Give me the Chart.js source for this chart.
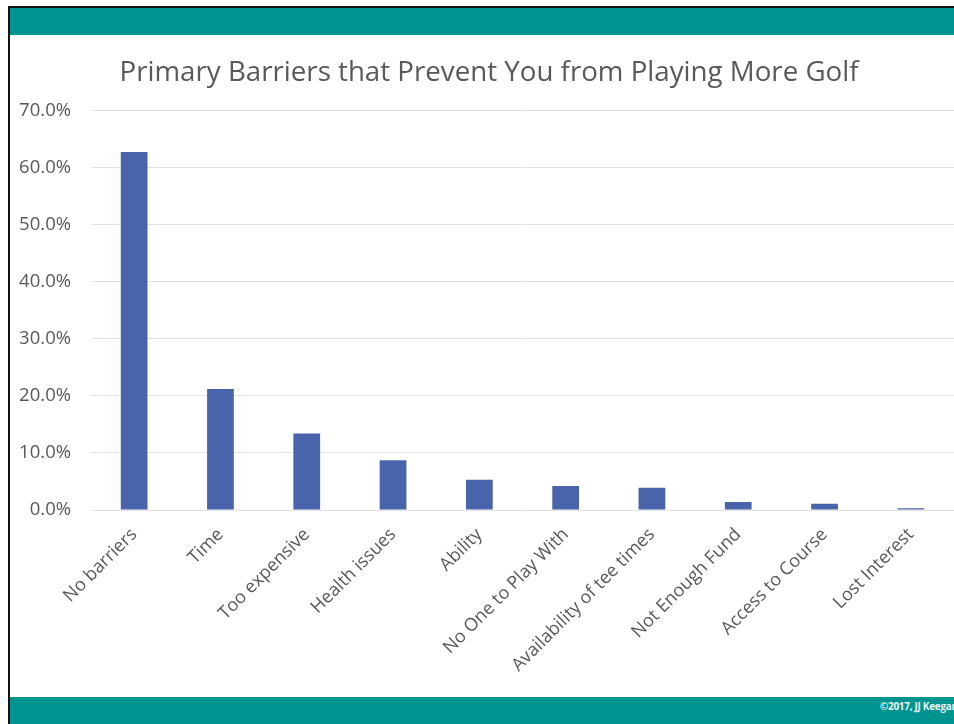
<!DOCTYPE html>
<html>
<head>
<meta charset="utf-8">
<script src="https://cdn.jsdelivr.net/npm/chart.js@4.4.1/dist/chart.umd.min.js"></script>
<style>
    html, body { margin: 0; padding: 0; background: #fff; }
    body { width: 954px; height: 724px; position: relative; overflow: hidden; }
    #frame {
        position: absolute; left: 8px; top: 6px; right: -2px; bottom: -2px;
        border-left: 2px solid #111; border-top: 2px solid #111;
    }
    #top-band { position: absolute; left: 10px; top: 8px; right: 0; height: 27px; background: #009490; }
    #bottom-band { position: absolute; left: 10px; top: 697px; right: 0; bottom: 0; background: #009490; }
    #copy {
        position: absolute; left: 880px; top: 699px; white-space: nowrap;
        font: bold 10px "Open Sans", sans-serif; color: #e8f4f3; letter-spacing: -0.3px;
    }
    #chart-box { position: absolute; left: 10px; top: 36px; width: 944px; height: 660px; }
</style>
</head>
<body>
<div id="frame"></div>
<div id="top-band"></div>
<div id="bottom-band"></div>
<div id="copy">©2017, JJ Keegan</div>
<div id="chart-box"><canvas id="barriers-chart"></canvas></div>
<script>
// Категории и доли ответов (%)
const categories = [
    'No barriers', 'Time', 'Too expensive', 'Health issues', 'Ability',
    'No One to Play With', 'Availability of tee times', 'Not Enough Fund',
    'Access to Course', 'Lost Interest'
];
const shares = [62.7, 21.2, 13.4, 8.7, 5.3, 4.2, 3.9, 1.4, 1.1, 0.3];
const yTicks = [0, 10, 20, 30, 40, 50, 60, 70];

const textGray = '#595959';
const fontFamily = '"Open Sans", sans-serif';

// Небольшой сдвиг заголовка вправо
const titleShift = {
    id: 'titleShift',
    afterLayout(chart) {
        if (chart.titleBlock) {
            chart.titleBlock.left += 7;
            chart.titleBlock.right += 7;
        }
    }
};

function initChart() {
    const ctx = document.getElementById('barriers-chart').getContext('2d');
    new Chart(ctx, {
        type: 'bar',
        data: {
            labels: categories,
            datasets: [{
                data: shares,
                backgroundColor: '#4a64ab',
                borderWidth: 0,
                barPercentage: 0.31,
                categoryPercentage: 1
            }]
        },
        options: {
            responsive: false,
            maintainAspectRatio: false,
            animation: false,
            layout: { padding: 0 },
            plugins: {
                legend: { display: false },
                tooltip: { enabled: false },
                title: {
                    display: true,
                    text: 'Primary Barriers that Prevent You from Playing More Golf',
                    color: textGray,
                    font: { family: fontFamily, size: 27.7, weight: 'normal' },
                    padding: { top: 20, bottom: 21 }
                }
            },
            scales: {
                x: {
                    grid: { display: false },
                    border: { display: false },
                    ticks: {
                        color: textGray,
                        font: { family: fontFamily, size: 18 },
                        maxRotation: 45,
                        minRotation: 45,
                        autoSkip: false,
                        padding: 6
                    },
                    afterFit: scale => { scale.height = 186; }
                },
                y: {
                    min: 0,
                    max: 70,
                    afterBuildTicks: scale => { scale.ticks = yTicks.map(v => ({ value: v })); },
                    grid: { color: '#e3e3e3', lineWidth: 1, drawTicks: false },
                    border: { display: false },
                    ticks: {
                        color: textGray,
                        font: { family: fontFamily, size: 18.5 },
                        padding: 20,
                        callback: v => v.toFixed(1) + '%'
                    },
                    afterFit: scale => { scale.width = 81; }
                }
            }
        },
        plugins: [titleShift]
    });
}

const canvas = document.getElementById('barriers-chart');
canvas.width = 944;
canvas.height = 660;
initChart();
</script>
</body>
</html>
